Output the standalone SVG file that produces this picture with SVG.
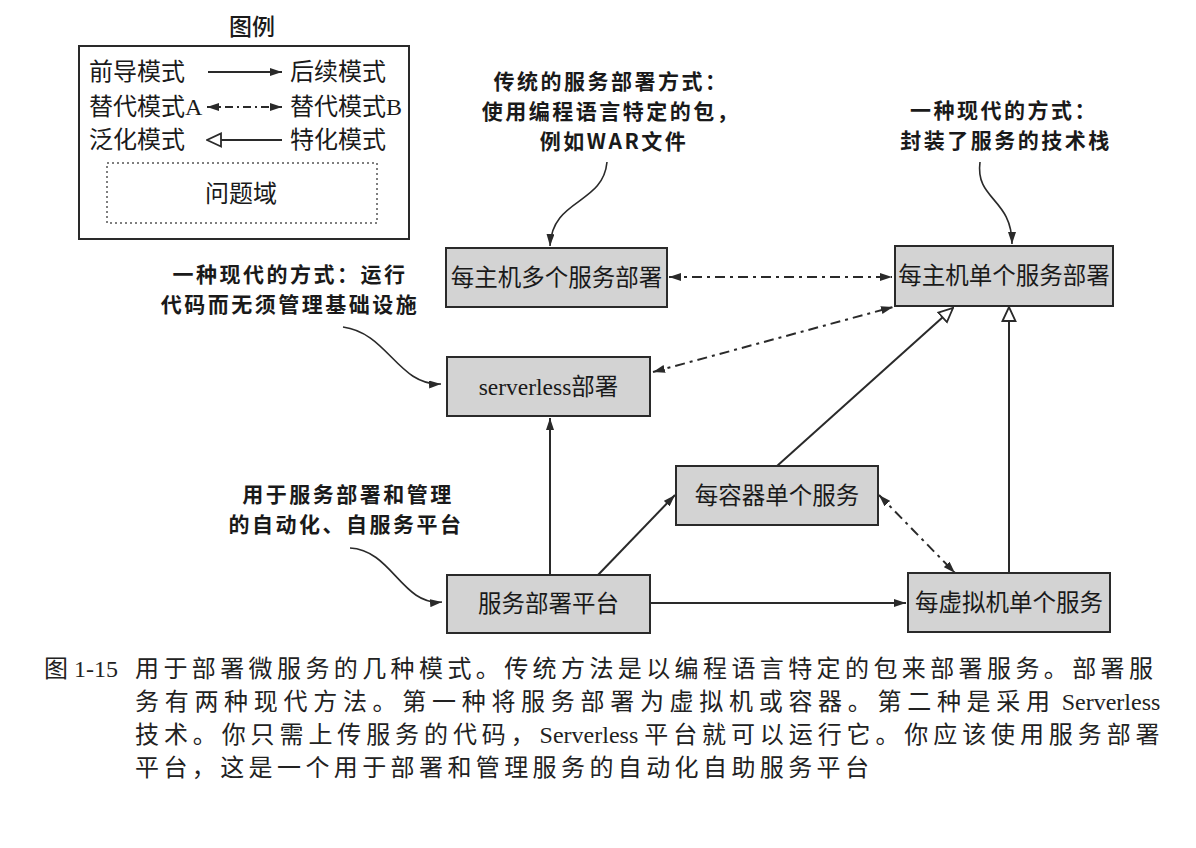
<svg xmlns="http://www.w3.org/2000/svg" width="1196" height="848" viewBox="0 0 1196 848">
<style>
.bg{fill:#ffffff}
.node rect{fill:#d3d3d3;stroke:#2a2a2a;stroke-width:2}
.nl{font-family:"Liberation Serif","Noto Sans CJK SC",serif;font-size:23.5px;fill:#1a1a1a;text-anchor:middle;dominant-baseline:central}
.lg{font-family:"Liberation Serif","Noto Sans CJK SC",serif;font-size:24px;fill:#1a1a1a;dominant-baseline:central}
.an{font-family:"Noto Sans CJK SC",sans-serif;font-size:21px;letter-spacing:2.5px;font-weight:700;fill:#1a1a1a;text-anchor:middle;dominant-baseline:central}
.cap{font-family:"Liberation Serif","Noto Sans CJK SC",serif;font-size:24px;fill:#222;dominant-baseline:central}
.solid{fill:none;stroke:#2a2a2a;stroke-width:2}
.dd{fill:none;stroke:#2a2a2a;stroke-width:2;stroke-dasharray:10 5 3 5}
.curve{fill:none;stroke:#2a2a2a;stroke-width:1.6}
</style>
<defs>
<marker id="fa" viewBox="0 0 12 8" refX="12" refY="4" markerWidth="12" markerHeight="8" markerUnits="userSpaceOnUse" orient="auto-start-reverse">
<path d="M0,0 L12,4 L0,8 z" fill="#2a2a2a"/>
</marker>
<marker id="ha" viewBox="0 0 16 16" refX="15" refY="8" markerWidth="16" markerHeight="16" markerUnits="userSpaceOnUse" orient="auto">
<path d="M1,1.5 L15,8 L1,14.5 z" fill="#ffffff" stroke="#2a2a2a" stroke-width="1.8"/>
</marker>
</defs>
<rect class="bg" x="0" y="0" width="1196" height="848"/>

<g id="legend">
<text x="252" y="25" font-family="Noto Sans CJK SC,sans-serif" font-size="23" font-weight="500" fill="#1a1a1a" text-anchor="middle" dominant-baseline="central">图例</text>
<rect x="79" y="46" width="330" height="193" fill="none" stroke="#2a2a2a" stroke-width="2"/>
<text class="lg" x="89" y="72">前导模式</text>
<line class="solid" x1="208" y1="72" x2="282" y2="72" marker-end="url(#fa)"/>
<text class="lg" x="290" y="72">后续模式</text>
<text class="lg" x="89" y="107">替代模式A</text>
<line x1="207" y1="107" x2="282" y2="107" fill="none" stroke="#2a2a2a" stroke-width="2" stroke-dasharray="8 4 2 4" marker-start="url(#fa)" marker-end="url(#fa)"/>
<text class="lg" x="290" y="107">替代模式B</text>
<text class="lg" x="89" y="140">泛化模式</text>
<line class="solid" x1="282" y1="140" x2="207" y2="140" marker-end="url(#ha)"/>
<text class="lg" x="290" y="140">特化模式</text>
<rect x="107" y="163" width="270" height="60" fill="none" stroke="#555" stroke-width="1.5" stroke-dasharray="2 3"/>
<text class="lg" x="241" y="194" text-anchor="middle">问题域</text>
</g>

<g id="annotations">
<text class="an" x="611" y="80">传统的服务部署方式：</text>
<text class="an" x="611" y="110">使用编程语言特定的包，</text>
<text class="an" x="614" y="140">例如WAR文件</text>
<text class="an" x="1004" y="109">一种现代的方式：</text>
<text class="an" x="1006" y="139">封装了服务的技术栈</text>
<text class="an" x="290" y="273">一种现代的方式：运行</text>
<text class="an" x="290" y="303">代码而无须管理基础设施</text>
<text class="an" x="348" y="493">用于服务部署和管理</text>
<text class="an" x="346" y="523">的自动化、自服务平台</text>
</g>

<g id="connectors">
<path class="curve" d="M607,162 C603,205 552,198 550,246" marker-end="url(#fa)"/>
<path class="curve" d="M980,162 C975,200 1012,198 1012,244" marker-end="url(#fa)"/>
<path class="curve" d="M343,327 C388,333 398,386 441,384" marker-end="url(#fa)"/>
<path class="curve" d="M350,548 C392,550 402,606 442,602" marker-end="url(#fa)"/>
<line class="dd" x1="669" y1="277" x2="892" y2="277" marker-start="url(#fa)" marker-end="url(#fa)"/>
<line class="dd" x1="653" y1="372" x2="893" y2="307" marker-start="url(#fa)" marker-end="url(#fa)"/>
<line class="solid" x1="777" y1="466" x2="953" y2="308" marker-end="url(#ha)"/>
<line class="solid" x1="1009" y1="573" x2="1009" y2="307" marker-end="url(#ha)"/>
<line class="solid" x1="550" y1="575" x2="550" y2="418" marker-end="url(#fa)"/>
<line class="solid" x1="598" y1="575" x2="675" y2="495" marker-end="url(#fa)"/>
<line class="solid" x1="650" y1="603" x2="906" y2="603" marker-end="url(#fa)"/>
<line class="dd" x1="879" y1="495" x2="955" y2="573" marker-start="url(#fa)" marker-end="url(#fa)"/>
</g>

<g id="node-multi-per-host" class="node">
<rect x="446" y="248" width="221" height="59"/>
<text class="nl" x="556.5" y="277.5">每主机多个服务部署</text>
</g>
<g id="node-single-per-host" class="node">
<rect x="895" y="246" width="218" height="60"/>
<text class="nl" x="1004" y="276">每主机单个服务部署</text>
</g>
<g id="node-serverless" class="node">
<rect x="447" y="357" width="203" height="59"/>
<text class="nl" x="548.5" y="386.5">serverless部署</text>
</g>
<g id="node-container" class="node">
<rect x="676" y="466" width="202" height="59"/>
<text class="nl" x="777" y="495.5">每容器单个服务</text>
</g>
<g id="node-platform" class="node">
<rect x="447" y="575" width="203" height="58"/>
<text class="nl" x="548.5" y="604">服务部署平台</text>
</g>
<g id="node-vm" class="node">
<rect x="908" y="573" width="202" height="59"/>
<text class="nl" x="1009" y="602.5">每虚拟机单个服务</text>
</g>

<g id="caption">
<text class="cap" x="44" y="669">图 1-15</text>
<text class="cap" x="135" y="669" letter-spacing="4.4">用于部署微服务的几种模式。传统方法是以编程语言特定的包来部署服务。部署服</text>
<text class="cap" x="135" y="702"><tspan letter-spacing="5.7">务有两种现代方法。第一种将服务部署为虚拟机或容器。第二种是采用</tspan><tspan letter-spacing="0"> Serverless</tspan></text>
<text class="cap" x="135" y="735"><tspan letter-spacing="4.9">技术。你只需上传服务的代码，</tspan><tspan letter-spacing="0">Serverless </tspan><tspan letter-spacing="4.9">平台就可以运行它。你应该使用服务部署</tspan></text>
<text class="cap" x="135" y="768" letter-spacing="4.4">平台，这是一个用于部署和管理服务的自动化自助服务平台</text>
</g>
</svg>
